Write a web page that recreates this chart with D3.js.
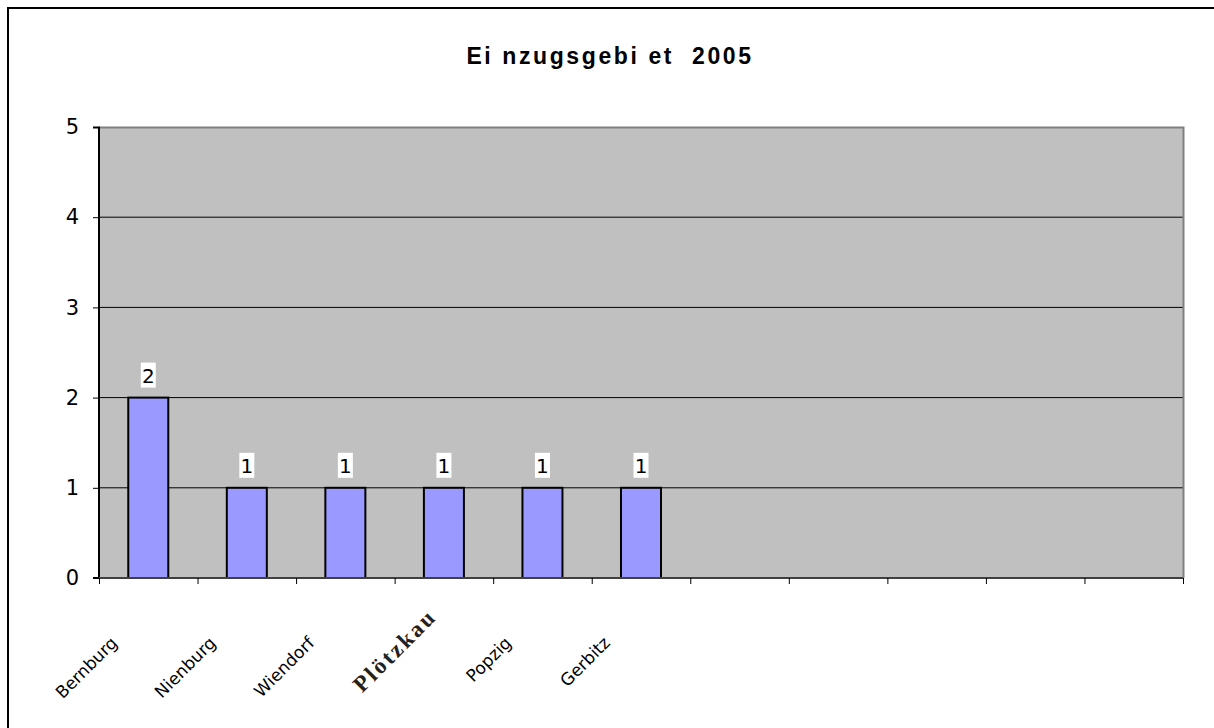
<!DOCTYPE html>
<html>
<head>
<meta charset="utf-8">
<script src="https://cdn.jsdelivr.net/npm/d3@7"></script>
<style>
  body { margin: 0; background: #fff; }
  svg { display: block; }
</style>
</head>
<body>
<svg id="plotarea"></svg>
<script>
// categories: 11 slots, only the first six are named
var categories = ["Bernburg", "Nienburg", "Wiendorf", "Plötzkau", "Popzig", "Gerbitz", "", "", "", "", ""];
var values = [2, 1, 1, 1, 1, 1, null, null, null, null, null];
var yTicks = [0, 1, 2, 3, 4, 5];
var title = "Ei nzugsgebi et  2005";

var W = 1214, H = 728;
var margin = {top: 127, right: 31, bottom: 150, left: 99};
var width = W - margin.left - margin.right;
var height = H - margin.top - margin.bottom;

var svg = d3.select("#plotarea")
    .attr("width", W)
    .attr("height", H);

// outer frame (only left and top visible)
svg.append("rect")
    .attr("x", 8).attr("y", 8)
    .attr("width", W + 20).attr("height", H + 20)
    .attr("fill", "#fff")
    .attr("stroke", "#000")
    .attr("stroke-width", 2);

svg.append("text")
    .attr("x", 610).attr("y", 64)
    .attr("text-anchor", "middle")
    .style("font-family", "'Liberation Sans', Arial, sans-serif")
    .style("font-size", "23px")
    .style("font-weight", "bold")
    .style("letter-spacing", "2.6px")
    .style("white-space", "pre")
    .attr("xml:space", "preserve")
    .text(title);

var g = svg.append("g")
    .attr("transform", "translate(" + margin.left + "," + margin.top + ")");

var x = d3.scaleBand()
    .domain(d3.range(categories.length))
    .range([0, width])
    .padding(0);

var xEdge = d3.scaleLinear()
    .domain([0, categories.length])
    .range([0, width]);

var y = d3.scaleLinear()
    .domain([0, 5])
    .range([height, 0]);

// plot background
g.append("rect")
    .attr("width", width).attr("height", height)
    .attr("fill", "#c0c0c0");

// gridlines
g.selectAll(".grid")
    .data(yTicks.slice(1, -1))
    .enter().append("line")
    .attr("x1", 0).attr("x2", width)
    .attr("y1", function(d) { return y(d); })
    .attr("y2", function(d) { return y(d); })
    .attr("stroke", "#000")
    .attr("stroke-width", 1);

// grey border top/right
g.append("path")
    .attr("d", "M0,0.5H" + (width + 0.5) + "V" + height)
    .attr("fill", "none")
    .attr("stroke", "#808080")
    .attr("stroke-width", 2);

// bars
var barW = x.bandwidth() * 0.406;
var data = categories.map(function(c, i) { return {name: c, i: i, v: values[i]}; })
    .filter(function(d) { return d.v != null; });

g.selectAll(".bar")
    .data(data)
    .enter().append("rect")
    .attr("class", "bar")
    .attr("x", function(d) { return x(d.i) + (x.bandwidth() - barW) / 2; })
    .attr("y", function(d) { return y(d.v); })
    .attr("width", barW)
    .attr("height", function(d) { return height - y(d.v); })
    .attr("fill", "#9999ff")
    .attr("stroke", "#000")
    .attr("stroke-width", 2);

// value labels with white boxes
var lab = g.selectAll(".vlabel")
    .data(data)
    .enter().append("g")
    .attr("transform", function(d) {
        return "translate(" + (x(d.i) + x.bandwidth() / 2) + "," + (y(d.v) - 10) + ")";
    });
lab.append("rect")
    .attr("x", -7.5).attr("y", -25)
    .attr("width", 15).attr("height", 25)
    .attr("fill", "#fff");
lab.append("text")
    .attr("y", -5)
    .attr("text-anchor", "middle")
    .style("font-family", "'DejaVu Sans', Verdana, sans-serif")
    .style("font-size", "20px")
    .text(function(d) { return d.v; });

// y axis
var yAxis = g.append("g")
    .call(d3.axisLeft(y).tickValues(yTicks).tickSize(6).tickPadding(14).tickFormat(d3.format("d")));
yAxis.select(".domain").attr("stroke", "#000").attr("stroke-width", 2).attr("d", "M-6,0.5H0V" + height + "H-6");
yAxis.selectAll("text")
    .style("font-family", "'DejaVu Sans', Verdana, sans-serif")
    .style("font-size", "21px")
    .attr("fill", "#000");

// x axis with ticks at slot edges
var xAxis = g.append("g")
    .attr("transform", "translate(0," + height + ")")
    .call(d3.axisBottom(xEdge).tickValues(d3.range(categories.length + 1)).tickSize(6).tickFormat(""));
xAxis.select(".domain").attr("stroke", "#404040").attr("stroke-width", 2).attr("d", "M0,0H" + width);

// category labels, rotated
var special = {"Plötzkau": {font: "'Liberation Serif', 'Times New Roman', serif", size: "23px", weight: "bold", ls: "2.5px", dx: -6, y: 618, fill: "#222"}};
g.selectAll(".clabel")
    .data(categories.map(function(c, i) { return {name: c, i: i}; }).filter(function(d) { return d.name; }))
    .enter().append("text")
    .attr("text-anchor", "end")
    .attr("transform", function(d) {
        var s = special[d.name];
        var cx = x(d.i) + x.bandwidth() / 2 + (s ? s.dx : -30);
        var cy = (s ? s.y : 644) - margin.top;
        return "translate(" + cx + "," + cy + ") rotate(-45)";
    })
    .style("font-family", function(d) { return special[d.name] ? special[d.name].font : "'DejaVu Sans', Verdana, sans-serif"; })
    .style("font-size", function(d) { return special[d.name] ? special[d.name].size : "17px"; })
    .style("font-weight", function(d) { return special[d.name] ? special[d.name].weight : "normal"; })
    .style("letter-spacing", function(d) { return special[d.name] ? special[d.name].ls : "0px"; })
    .attr("fill", function(d) { return special[d.name] ? special[d.name].fill : "#000"; })
    .text(function(d) { return d.name; });
</script>
</body>
</html>
